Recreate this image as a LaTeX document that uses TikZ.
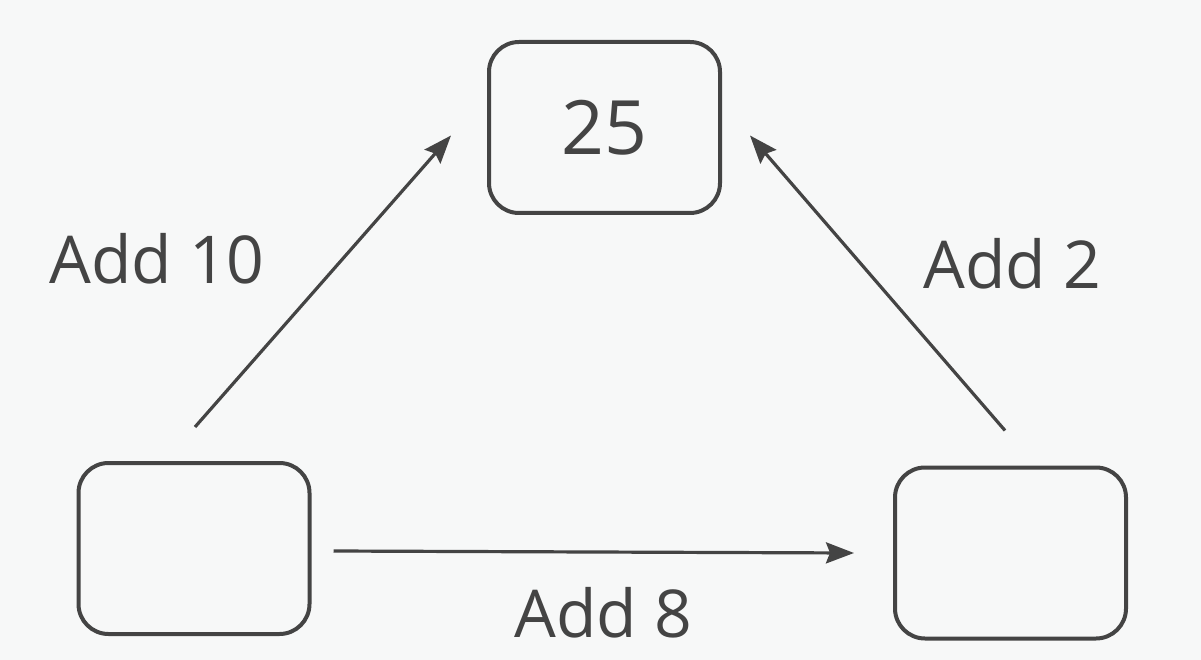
\documentclass[tikz,border=0pt]{standalone}
\usepackage{fontspec}
\setmainfont{Open Sans}
\usetikzlibrary{arrows.meta}
\definecolor{ink}{HTML}{444444}
\definecolor{paper}{HTML}{F7F8F8}
\tikzset{
  box/.style={draw=ink, line width=4pt, rounded corners=30pt, minimum width=231pt, minimum height=171pt, inner sep=0pt, text=ink},
  arr/.style={draw=ink, line width=3.2pt, -{Stealth[length=28pt,width=21pt,inset=4pt]}},
  lbl/.style={text=ink, anchor=base, inner sep=0pt, font=\fontsize{66pt}{70pt}\selectfont}
}
\begin{document}
\begin{tikzpicture}[x=1pt,y=-1pt]
\fill[paper] (0,0) rectangle (1201,660);
\useasboundingbox (0,0) rectangle (1201,660);
\node[box, font=\fontsize{75pt}{80pt}\selectfont] (T) at (604.5,127.5) {25};
\node[box] (L) at (194,548.5) {};
\node[box] (R) at (1010.5,553) {};
\draw[arr] ([shift={(1pt,34pt)}]L.north) -- ([shift={(-36pt,-8pt)}]T.west);
\draw[arr] ([shift={(-5.5pt,35pt)}]R.north) -- ([shift={(28pt,-8pt)}]T.east);
\draw[arr] ([shift={(22pt,-2.5pt)}]L.east) -- ([shift={(-39pt,0pt)}]R.west);
\node[lbl] (a10) at (157,283) {Add 10};
\node[lbl] (a2) at (1012,288) {Add 2};
\node[lbl] (a8) at (603,637) {Add 8};
\end{tikzpicture}
\end{document}
